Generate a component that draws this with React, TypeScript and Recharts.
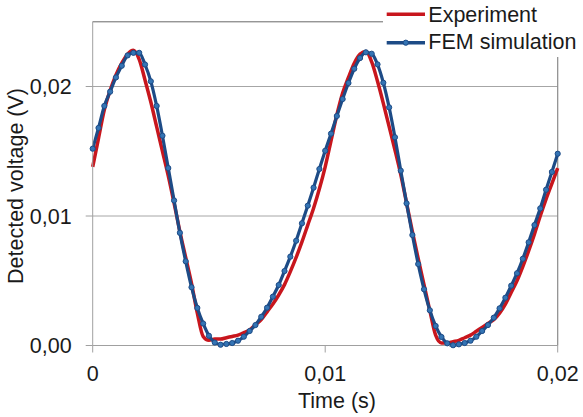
import React from "react";
import {
  LineChart,
  Line,
  XAxis,
  YAxis,
  CartesianGrid,
  ReferenceLine,
  Label,
} from "recharts";

// sample times in ms (one point every 0.25 ms)
const timeMs = [
  0, 0.25, 0.5, 0.75, 1, 1.25, 1.5, 1.75, 2, 2.25, 2.5, 2.75, 3, 3.25, 3.5, 3.75,
  4, 4.25, 4.5, 4.75, 5, 5.25, 5.5, 5.75, 6, 6.25, 6.5, 6.75, 7, 7.25, 7.5, 7.75,
  8, 8.25, 8.5, 8.75, 9, 9.25, 9.5, 9.75, 10, 10.25, 10.5, 10.75, 11, 11.25, 11.5,
  11.75, 12, 12.25, 12.5, 12.75, 13, 13.25, 13.5, 13.75, 14, 14.25, 14.5, 14.75,
  15, 15.25, 15.5, 15.75, 16, 16.25, 16.5, 16.75, 17, 17.25, 17.5, 17.75, 18,
  18.25, 18.5, 18.75, 19, 19.25, 19.5, 19.75, 20,
];

const experiment = [
  0.0138, 0.016, 0.0182, 0.0197, 0.0209, 0.0218, 0.0225, 0.0228, 0.0221, 0.0205,
  0.0188, 0.0169, 0.015, 0.0131, 0.011, 0.0088, 0.0068, 0.0048, 0.0025, 0.0007,
  0.0004, 0.0005, 0.0005, 0.0006, 0.0007, 0.0008, 0.001, 0.0012, 0.0016, 0.002,
  0.0026, 0.0032, 0.0039, 0.0047, 0.0057, 0.0068, 0.008, 0.0093, 0.0106, 0.0121,
  0.0138, 0.0158, 0.0178, 0.0195, 0.0207, 0.0218, 0.0225, 0.0227, 0.0219, 0.0204,
  0.0187, 0.0169, 0.0151, 0.0132, 0.011, 0.0088, 0.0067, 0.0047, 0.0027, 0.0008,
  0.0002, 0.0002, 0.0003, 0.0004, 0.0006, 0.0008, 0.0011, 0.0014, 0.0017, 0.002,
  0.0025, 0.0032, 0.0041, 0.005, 0.0061, 0.0073, 0.0086, 0.01, 0.0113, 0.0125,
  0.0137,
];

const femSimulation = [
  0.0152, 0.0168, 0.0185, 0.0196, 0.0207, 0.0216, 0.0224, 0.0226, 0.0226, 0.0217,
  0.0204, 0.0185, 0.0162, 0.0137, 0.0112, 0.0087, 0.0065, 0.0045, 0.0029, 0.0017,
  0.00075, 0.00023, 0.00006, 0.00012, 0.00019, 0.00037, 0.00068, 0.00112, 0.00158,
  0.00222, 0.00292, 0.00377, 0.00467, 0.00575, 0.00686, 0.00809, 0.00944, 0.0108,
  0.01219, 0.01363, 0.01504, 0.01636, 0.01772, 0.01903, 0.02027, 0.02137, 0.0222,
  0.02264, 0.02253, 0.02171, 0.02029, 0.01839, 0.01608, 0.0135, 0.01098, 0.00853,
  0.00629, 0.00434, 0.00272, 0.00151, 0.00066, 0.00017, 0.00002, 0.00009, 0.00019,
  0.00037, 0.00068, 0.00112, 0.00158, 0.00215, 0.00287, 0.00369, 0.00462, 0.00558,
  0.0067, 0.00797, 0.0093, 0.01059, 0.01203, 0.0134, 0.01481,
];

const xTicks = [0, 0.01, 0.02];
const yTicks = [0, 0.01, 0.02];
const xTickLabels = ["0", "0,01", "0,02"];
const yTickLabels = ["0,00", "0,01", "0,02"];

const data = timeMs.map((t, i) => ({
  time: t / 1000,
  experiment: experiment[i],
  fem: femSimulation[i],
}));

const FONT = "'Liberation Sans', Arial, sans-serif";
const RED = "#c8161d";
const BLUE = "#1d4b86";
const DOT = "#3474b4";
const TEXT = "#1a1a1a";

function LegendBox() {
  return (
    <div
      style={{
        position: "absolute",
        left: 383,
        top: 0,
        width: 200,
        height: 57,
        background: "#fff",
      }}
    >
      <svg width={200} height={57}>
        <line x1={3.7} x2={42} y1={14.3} y2={14.3} stroke={RED} strokeWidth={3.5} />
        <text x={45.3} y={21.7} fontSize={21.5} fontFamily={FONT} fill={TEXT}>
          Experiment
        </text>
        <line x1={3.7} x2={42} y1={42.7} y2={42.7} stroke={BLUE} strokeWidth={3.5} />
        <circle cx={22.8} cy={42.7} r={2.6} fill={DOT} stroke={BLUE} strokeWidth={1} />
        <text x={45.3} y={49} fontSize={21.5} fontFamily={FONT} fill={TEXT}>
          FEM simulation
        </text>
      </svg>
    </div>
  );
}

export default function App() {
  return (
    <div style={{ position: "fixed", left: 0, top: 0, width: 583, height: 417, background: "#fff" }}>
      <LineChart
        width={583}
        height={417}
        data={data}
        margin={{ top: 21.75, right: 25.3, left: 0, bottom: 0 }}
      >
        <CartesianGrid vertical={false} stroke="#a6a6a6" strokeWidth={1} />
        <ReferenceLine y={0.025} stroke="#8a8a8a" strokeWidth={1.2} />
        <ReferenceLine x={0.02} stroke="#8a8a8a" strokeWidth={1.2} />
        <XAxis
          dataKey="time"
          type="number"
          domain={[0, 0.02]}
          ticks={xTicks}
          tickFormatter={(v: number) => xTickLabels[xTicks.indexOf(v)] ?? String(v)}
          height={71.5}
          tickSize={7}
          tickMargin={13}
          stroke="#a0a0a0"
          tick={{ fontSize: 21.5, fill: TEXT, fontFamily: FONT }}
        >
          <Label
            content={() => (
              <text x={337} y={408.3} textAnchor="middle" fontSize={21.5} fontFamily={FONT} fill={TEXT}>
                Time (s)
              </text>
            )}
          />
        </XAxis>
        <YAxis
          type="number"
          domain={[0, 0.025]}
          ticks={yTicks}
          tickFormatter={(v: number) => yTickLabels[yTicks.indexOf(v)] ?? String(v)}
          width={92.7}
          tickSize={7}
          tickMargin={14}
          stroke="#a0a0a0"
          tick={{ fontSize: 21.5, fill: TEXT, fontFamily: FONT }}
        >
          <Label
            content={() => (
              <text
                x={23.3}
                y={186}
                transform="rotate(-90 23.3 186)"
                textAnchor="middle"
                fontSize={21.5}
                fontFamily={FONT}
                fill={TEXT}
              >
                Detected voltage (V)
              </text>
            )}
          />
        </YAxis>
        <Line
          type="monotone"
          dataKey="experiment"
          stroke={RED}
          strokeWidth={3.5}
          dot={false}
          isAnimationActive={false}
        />
        <Line
          type="monotone"
          dataKey="fem"
          stroke={BLUE}
          strokeWidth={3.2}
          dot={{ r: 2.6, fill: DOT, stroke: BLUE, strokeWidth: 1 }}
          isAnimationActive={false}
        />
      </LineChart>
      <LegendBox />
    </div>
  );
}
